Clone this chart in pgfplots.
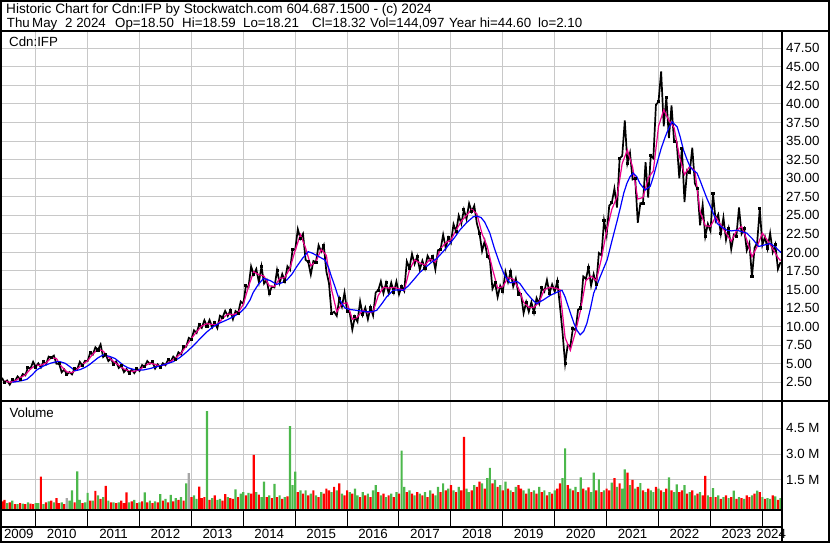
\documentclass[border=0pt]{standalone}
\usepackage{fontspec}
\setmainfont{Liberation Sans}
\usepackage{pgfplots}
\pgfplotsset{compat=1.18}
\definecolor{volgreen}{RGB}{76,184,76}
\definecolor{gridgray}{RGB}{200,200,200}
\newcommand\lab{\fontsize{13.3}{15}\selectfont}
\pgfplotsset{
  swaxis/.style={
    scale only axis, width=779.5pt,
    xmin=2009.3507, xmax=2024.369,
    axis line style={draw=none},
    major tick length=0pt,
    xtick={2010,...,2024}, xticklabels={},
    tick label style={font=\lab},
    clip=true,
  }
}
\begin{document}
\lab
\begin{tikzpicture}[x=1pt,y=1pt]
\useasboundingbox (0,0) rectangle (830,543);

% price panel
\begin{axis}[swaxis,
  at={(2pt,142.5pt)}, anchor=south west, height=368.5pt,
  ymin=0.05, ymax=49.7,
  xmajorgrids, ymajorgrids, grid style={gridgray, line width=1pt},
  ytick={2.5,5,...,47.5},
  yticklabel pos=right,
  yticklabel style={anchor=west, inner sep=0pt, xshift=4.5pt,
    /pgf/number format/fixed, /pgf/number format/fixed zerofill,
    /pgf/number format/precision=2, /pgf/number format/assume math mode=true},
]
\addplot[black, line width=1.7pt, mark=square*, mark size=0.7pt,
  mark options={fill=red, draw=none}, mark repeat=3] table {
x y
2009.35 3.10
2009.40 2.47
2009.45 2.75
2009.50 2.19
2009.55 2.87
2009.60 2.65
2009.65 3.29
2009.70 2.93
2009.75 3.62
2009.80 3.43
2009.85 4.51
2009.90 4.36
2009.95 5.26
2010.00 4.56
2010.05 5.06
2010.10 4.49
2010.15 5.32
2010.20 4.95
2010.25 5.96
2010.30 5.81
2010.35 6.10
2010.40 5.00
2010.45 5.03
2010.50 3.86
2010.55 4.23
2010.60 3.56
2010.65 3.88
2010.70 3.57
2010.75 4.35
2010.80 4.27
2010.85 5.26
2010.90 4.73
2010.95 5.40
2011.00 5.35
2011.05 6.50
2011.10 6.23
2011.15 7.22
2011.20 6.85
2011.25 7.60
2011.30 5.90
2011.35 6.23
2011.40 5.36
2011.45 5.72
2011.50 4.91
2011.55 5.30
2011.60 4.44
2011.65 4.75
2011.70 3.87
2011.75 4.29
2011.80 3.75
2011.85 4.20
2011.90 3.74
2011.95 4.34
2012.00 4.03
2012.05 4.83
2012.10 4.59
2012.15 5.37
2012.20 5.00
2012.25 5.25
2012.30 4.35
2012.35 4.92
2012.40 4.49
2012.45 5.07
2012.50 4.79
2012.55 5.54
2012.60 5.29
2012.65 5.96
2012.70 5.63
2012.75 6.55
2012.80 6.25
2012.85 7.28
2012.90 7.30
2012.95 8.49
2013.00 8.27
2013.05 9.51
2013.10 9.15
2013.15 10.30
2013.20 9.84
2013.25 10.86
2013.30 10.08
2013.35 10.90
2013.40 9.88
2013.45 10.55
2013.50 9.80
2013.55 11.47
2013.60 11.24
2013.65 12.13
2013.70 11.43
2013.75 12.20
2013.80 11.00
2013.85 12.10
2013.90 11.80
2013.95 13.39
2014.00 13.08
2014.05 15.50
2014.10 15.30
2014.15 18.13
2014.20 17.04
2014.25 17.76
2014.30 15.98
2014.35 18.10
2014.40 15.80
2014.45 16.30
2014.50 14.45
2014.55 15.40
2014.60 15.28
2014.65 17.62
2014.70 15.88
2014.75 17.09
2014.80 16.14
2014.85 18.13
2014.90 17.63
2014.95 20.42
2015.00 20.37
2015.05 23.13
2015.10 21.86
2015.15 22.51
2015.20 18.99
2015.25 18.73
2015.30 17.01
2015.35 18.85
2015.40 18.70
2015.45 20.97
2015.50 20.12
2015.55 20.97
2015.60 17.43
2015.65 15.88
2015.70 11.75
2015.75 12.00
2015.80 11.45
2015.85 13.80
2015.90 12.70
2015.95 14.60
2016.00 12.06
2016.05 11.90
2016.10 9.60
2016.15 11.32
2016.20 10.65
2016.25 13.40
2016.30 11.58
2016.35 12.55
2016.40 11.00
2016.45 12.60
2016.50 11.50
2016.55 14.60
2016.60 14.90
2016.65 16.10
2016.70 14.50
2016.75 15.90
2016.80 14.50
2016.85 15.93
2016.90 14.61
2016.95 16.08
2017.00 14.35
2017.05 15.43
2017.10 14.80
2017.15 18.80
2017.20 17.90
2017.25 19.80
2017.30 18.44
2017.35 19.46
2017.40 17.68
2017.45 18.88
2017.50 17.85
2017.55 19.55
2017.60 18.90
2017.65 19.47
2017.70 17.70
2017.75 20.30
2017.80 20.40
2017.85 22.39
2017.90 20.60
2017.95 22.00
2018.00 21.30
2018.05 23.80
2018.10 22.78
2018.15 24.97
2018.20 23.87
2018.25 25.75
2018.30 24.50
2018.35 26.60
2018.40 25.50
2018.45 26.30
2018.50 23.90
2018.55 22.60
2018.60 20.18
2018.65 21.52
2018.70 19.50
2018.75 19.00
2018.80 15.10
2018.85 15.92
2018.90 13.98
2018.95 15.51
2019.00 14.74
2019.05 17.38
2019.10 16.02
2019.15 17.40
2019.20 15.40
2019.25 16.50
2019.30 14.40
2019.35 14.40
2019.40 11.82
2019.45 13.30
2019.50 12.00
2019.55 13.29
2019.60 11.91
2019.65 13.86
2019.70 13.08
2019.75 15.22
2019.80 14.73
2019.85 16.28
2019.90 14.50
2019.95 15.70
2020.00 14.70
2020.05 16.13
2020.10 12.80
2020.15 9.26
2020.20 5.00
2020.25 7.55
2020.30 7.30
2020.35 9.80
2020.40 9.50
2020.45 12.30
2020.50 12.51
2020.55 16.76
2020.60 16.42
2020.65 17.97
2020.70 15.52
2020.75 17.07
2020.80 15.63
2020.85 19.92
2020.90 19.60
2020.95 24.30
2021.00 22.36
2021.05 26.30
2021.10 26.70
2021.15 28.60
2021.20 26.04
2021.25 32.66
2021.30 33.00
2021.35 37.80
2021.40 32.00
2021.45 33.40
2021.50 29.83
2021.55 30.00
2021.60 24.00
2021.65 26.64
2021.70 26.60
2021.75 32.16
2021.80 27.40
2021.85 33.05
2021.90 32.70
2021.95 39.90
2022.00 40.30
2022.05 44.40
2022.10 37.00
2022.15 40.90
2022.20 35.40
2022.25 39.80
2022.30 34.90
2022.35 34.85
2022.40 30.00
2022.45 34.00
2022.50 26.80
2022.55 31.07
2022.60 30.73
2022.65 34.10
2022.70 29.30
2022.75 28.60
2022.80 23.65
2022.85 26.40
2022.90 22.15
2022.95 23.85
2023.00 22.90
2023.05 27.90
2023.10 24.30
2023.15 25.10
2023.20 22.50
2023.25 24.70
2023.30 21.70
2023.35 23.20
2023.40 20.42
2023.45 22.40
2023.50 22.20
2023.55 26.06
2023.60 22.50
2023.65 23.20
2023.70 20.27
2023.75 21.25
2023.80 16.70
2023.85 20.60
2023.90 21.30
2023.95 25.90
2024.00 21.00
2024.05 22.10
2024.10 20.50
2024.15 22.60
2024.20 20.04
2024.25 21.06
2024.30 17.75
2024.35 18.70
};
% short moving average
\addplot[magenta, line width=1.2pt] table {
x y
2009.40 2.7
2009.50 2.5
2009.60 2.7
2009.70 3.1
2009.80 3.5
2009.90 4.3
2010.00 4.8
2010.10 4.8
2010.20 5.1
2010.30 5.8
2010.40 5.7
2010.50 4.6
2010.60 3.9
2010.70 3.8
2010.80 4.3
2010.90 4.9
2011.00 5.4
2011.10 6.3
2011.20 7.0
2011.30 6.7
2011.40 5.9
2011.50 5.3
2011.60 4.8
2011.70 4.3
2011.80 4.0
2011.90 4.0
2012.00 4.2
2012.10 4.7
2012.20 5.1
2012.30 4.9
2012.40 4.7
2012.50 4.9
2012.60 5.3
2012.70 5.8
2012.80 6.4
2012.90 7.4
2013.00 8.4
2013.10 9.3
2013.20 10.1
2013.30 10.4
2013.40 10.3
2013.50 10.3
2013.60 11.1
2013.70 11.7
2013.80 11.6
2013.90 11.9
2014.00 13.0
2014.10 15.4
2014.20 17.4
2014.30 17.0
2014.40 16.8
2014.50 15.5
2014.60 15.4
2014.70 16.5
2014.80 16.6
2014.90 17.9
2015.00 20.3
2015.10 22.4
2015.20 20.6
2015.30 18.2
2015.40 18.8
2015.50 20.4
2015.60 19.6
2015.70 15.0
2015.80 12.0
2015.90 13.1
2016.00 13.2
2016.10 11.0
2016.20 11.3
2016.30 12.2
2016.40 11.9
2016.50 12.0
2016.60 14.2
2016.70 15.3
2016.80 15.2
2016.90 15.3
2017.00 15.1
2017.10 14.9
2017.20 17.6
2017.30 19.0
2017.40 18.6
2017.50 18.3
2017.60 19.1
2017.70 18.7
2017.80 20.5
2017.90 21.3
2018.00 21.7
2018.10 23.0
2018.20 24.2
2018.30 25.0
2018.40 25.8
2018.50 25.2
2018.60 22.5
2018.70 20.8
2018.80 17.8
2018.90 15.2
2019.00 15.4
2019.10 16.6
2019.20 16.4
2019.30 15.2
2019.40 13.3
2019.50 12.6
2019.60 12.6
2019.70 13.3
2019.80 15.0
2019.90 15.3
2020.00 15.2
2020.10 15.0
2020.20 8.5
2020.30 6.8
2020.40 9.3
2020.50 12.3
2020.60 16.2
2020.70 16.8
2020.80 16.2
2020.90 19.2
2021.00 22.9
2021.10 25.8
2021.20 27.5
2021.30 32.0
2021.40 33.8
2021.50 31.5
2021.60 27.2
2021.70 27.4
2021.80 30.0
2021.90 31.0
2022.00 37.0
2022.10 39.2
2022.20 37.8
2022.30 36.8
2022.40 33.0
2022.50 30.5
2022.60 31.6
2022.70 31.0
2022.80 25.5
2022.90 23.6
2023.00 23.5
2023.10 24.8
2023.20 23.7
2023.30 22.6
2023.40 21.5
2023.50 22.9
2023.60 23.5
2023.70 21.7
2023.80 19.4
2023.90 20.8
2024.00 22.6
2024.10 21.6
2024.20 20.5
2024.30 19.3
2024.35 18.9
};
% long moving average
\addplot[blue, line width=1.2pt] table {
x y
2009.55 2.50
2009.63 2.60
2009.73 2.72
2009.83 2.90
2009.93 3.50
2010.02 4.16
2010.15 4.70
2010.28 5.06
2010.38 5.25
2010.47 5.28
2010.57 5.05
2010.66 4.60
2010.76 4.06
2010.85 4.20
2010.95 4.50
2011.03 4.85
2011.11 5.30
2011.20 5.80
2011.30 6.20
2011.42 6.00
2011.53 5.70
2011.61 5.25
2011.69 4.80
2011.78 4.45
2011.88 4.25
2011.98 4.18
2012.07 4.16
2012.20 4.35
2012.33 4.60
2012.49 4.90
2012.65 5.28
2012.78 5.85
2012.91 6.60
2013.04 7.45
2013.17 8.40
2013.30 9.30
2013.42 10.00
2013.55 10.50
2013.68 10.90
2013.81 11.35
2013.94 11.90
2014.04 12.60
2014.13 13.60
2014.19 14.60
2014.29 15.70
2014.39 16.50
2014.52 16.20
2014.64 15.70
2014.74 15.90
2014.84 16.30
2014.94 17.10
2015.03 18.10
2015.14 19.20
2015.25 20.10
2015.33 19.90
2015.41 19.60
2015.49 19.30
2015.57 19.00
2015.64 18.00
2015.70 16.70
2015.77 15.30
2015.83 14.00
2015.90 13.10
2015.96 12.50
2016.07 12.30
2016.18 12.20
2016.28 12.10
2016.38 12.00
2016.48 12.00
2016.57 12.20
2016.67 13.10
2016.76 14.00
2016.89 14.90
2016.98 14.95
2017.08 14.90
2017.18 15.50
2017.28 16.30
2017.40 17.30
2017.53 18.10
2017.63 18.70
2017.73 19.20
2017.86 20.20
2017.98 21.20
2018.08 22.10
2018.17 23.00
2018.30 24.00
2018.43 24.80
2018.50 24.90
2018.58 24.70
2018.65 24.10
2018.75 22.60
2018.84 20.50
2018.94 18.50
2019.04 16.80
2019.14 15.90
2019.27 16.10
2019.33 15.80
2019.46 14.50
2019.56 13.70
2019.65 13.10
2019.78 13.60
2019.91 14.20
2020.03 14.60
2020.14 14.90
2020.20 14.00
2020.27 12.50
2020.37 10.45
2020.43 9.50
2020.49 8.90
2020.56 9.40
2020.62 10.45
2020.69 12.50
2020.75 14.50
2020.88 16.80
2021.01 19.00
2021.10 21.50
2021.20 24.20
2021.27 26.20
2021.33 28.00
2021.39 29.30
2021.45 30.20
2021.51 30.70
2021.58 30.20
2021.64 29.30
2021.74 28.40
2021.84 28.90
2021.90 30.20
2021.97 32.00
2022.05 34.00
2022.13 35.60
2022.20 36.80
2022.26 37.60
2022.36 36.90
2022.42 35.50
2022.48 33.80
2022.55 32.50
2022.61 31.50
2022.68 31.00
2022.74 30.70
2022.80 29.70
2022.87 28.40
2022.93 27.30
2023.00 26.20
2023.07 25.00
2023.13 23.90
2023.22 23.40
2023.32 23.00
2023.41 22.90
2023.51 23.00
2023.60 22.80
2023.70 22.60
2023.80 21.90
2023.93 20.80
2024.04 21.00
2024.15 21.20
2024.24 20.80
2024.31 20.30
2024.36 20.00
};
\end{axis}

% volume panel (millions)
\begin{axis}[swaxis,
  at={(2pt,33.5pt)}, anchor=south west, height=107pt,
  ymin=0, ymax=6.21,
  y filter/.expression={y+0.215},
  xmajorgrids, ymajorgrids, grid style={gridgray, line width=1pt},
  ytick={1.715,3.215,4.715}, yticklabels={1.5 M,3.0 M,4.5 M},
  yticklabel pos=right,
  yticklabel style={anchor=west, inner sep=0pt, xshift=4.5pt},
]
\addplot[ybar, bar width=2.2pt, bar shift=0pt, fill=volgreen, draw=none] table {
x y
2009.45 0.15
2009.55 0.3
2009.65 0.1
2009.75 0.12
2009.85 0.2
2010.00 0.15
2010.05 0.15
2010.15 0.1
2010.25 0.25
2010.35 0.2
2010.50 0.2
2010.65 0.3
2010.70 0.9
2010.80 2.0
2010.85 0.35
2010.95 0.2
2011.00 0.75
2011.10 0.3
2011.20 0.6
2011.30 0.5
2011.40 0.3
2011.50 0.2
2011.60 0.2
2011.80 0.2
2011.90 0.35
2012.00 0.2
2012.10 0.78
2012.20 0.3
2012.30 0.25
2012.40 0.68
2012.50 0.4
2012.60 0.63
2012.70 0.45
2012.80 0.5
2012.90 1.3
2013.05 0.6
2013.10 0.4
2013.30 5.5
2013.40 0.45
2013.50 0.35
2013.55 0.4
2013.70 0.5
2013.85 0.96
2013.95 0.7
2014.00 0.8
2014.10 0.75
2014.25 0.8
2014.35 0.5
2014.40 1.4
2014.50 0.6
2014.60 1.27
2014.70 0.6
2014.80 0.5
2014.90 4.63
2014.95 1.2
2015.00 1.98
2015.10 0.9
2015.20 0.9
2015.30 0.7
2015.40 0.6
2015.50 0.8
2015.70 0.8
2015.80 0.9
2015.90 0.7
2016.05 0.8
2016.15 1.0
2016.20 0.6
2016.30 0.8
2016.40 0.7
2016.50 0.9
2016.55 1.2
2016.65 0.6
2016.75 0.5
2016.85 0.7
2016.95 0.8
2017.05 3.2
2017.10 1.1
2017.20 0.9
2017.30 0.6
2017.40 0.7
2017.50 0.8
2017.60 0.9
2017.70 0.6
2017.75 1.1
2017.85 1.3
2017.95 1.0
2018.05 0.9
2018.15 1.1
2018.30 1.0
2018.35 0.8
2018.45 1.2
2018.60 1.3
2018.70 1.6
2018.75 2.2
2018.85 1.5
2018.95 1.2
2019.05 1.4
2019.15 0.9
2019.25 1.1
2019.40 0.9
2019.50 1.0
2019.60 0.9
2019.70 1.1
2019.80 0.9
2019.90 0.8
2020.00 0.9
2020.15 1.6
2020.20 3.33
2020.30 1.0
2020.40 1.1
2020.50 1.65
2020.60 0.9
2020.70 0.8
2020.75 1.92
2020.85 1.54
2020.95 0.9
2021.10 1.34
2021.20 1.1
2021.30 1.0
2021.35 2.12
2021.45 1.2
2021.55 1.0
2021.65 1.31
2021.75 0.8
2021.85 0.9
2021.90 0.8
2022.00 1.0
2022.10 0.8
2022.20 1.65
2022.30 0.8
2022.35 1.25
2022.50 1.2
2022.60 0.8
2022.70 0.6
2022.80 0.8
2022.95 0.6
2023.05 1.02
2023.15 0.6
2023.25 0.5
2023.35 0.45
2023.45 0.88
2023.55 0.5
2023.65 0.4
2023.80 0.6
2023.90 0.88
2024.00 0.5
2024.10 0.45
2024.15 0.4
2024.25 0.55
2024.35 0.45
};
\addplot[ybar, bar width=2.2pt, bar shift=0pt, fill=red, draw=none] table {
x y
2009.35 0.25
2009.40 0.35
2009.50 0.2
2009.60 0.1
2009.70 0.15
2009.80 0.1
2009.90 0.12
2009.95 0.1
2010.10 1.7
2010.20 0.2
2010.30 0.3
2010.40 0.45
2010.45 0.15
2010.55 0.1
2010.75 0.2
2010.90 0.15
2011.05 0.3
2011.15 0.86
2011.25 0.4
2011.35 1.15
2011.45 0.2
2011.55 0.15
2011.65 0.3
2011.70 0.15
2011.75 0.78
2011.85 0.25
2011.95 0.15
2012.05 0.25
2012.15 0.2
2012.25 0.15
2012.35 0.2
2012.45 0.3
2012.55 0.2
2012.65 0.25
2012.75 0.35
2012.85 0.3
2013.00 0.5
2013.15 1.11
2013.20 0.45
2013.25 0.5
2013.35 0.35
2013.45 0.6
2013.60 0.3
2013.65 0.68
2013.75 0.45
2013.80 0.4
2013.90 0.5
2014.05 0.6
2014.15 0.7
2014.20 2.95
2014.30 0.65
2014.45 0.5
2014.55 0.45
2014.65 0.5
2014.75 0.4
2014.85 0.55
2015.05 0.8
2015.15 0.7
2015.25 0.6
2015.35 0.9
2015.45 0.5
2015.55 0.7
2015.60 1.0
2015.65 0.9
2015.75 1.1
2015.85 1.3
2015.95 0.6
2016.00 0.9
2016.10 0.7
2016.25 0.5
2016.35 0.6
2016.45 0.5
2016.60 0.8
2016.70 0.7
2016.80 0.6
2016.90 0.5
2017.00 0.7
2017.15 0.8
2017.25 0.7
2017.35 0.8
2017.45 0.6
2017.55 0.5
2017.65 0.7
2017.80 0.8
2017.90 0.9
2018.00 1.2
2018.10 0.8
2018.20 0.9
2018.25 4.0
2018.40 0.9
2018.50 1.1
2018.55 1.4
2018.65 1.0
2018.80 1.3
2018.90 1.1
2019.00 0.9
2019.10 1.0
2019.20 0.8
2019.30 1.2
2019.35 1.0
2019.45 0.7
2019.55 0.8
2019.65 0.7
2019.75 0.8
2019.85 0.6
2019.95 0.7
2020.05 1.0
2020.10 1.3
2020.25 1.2
2020.35 0.9
2020.45 0.8
2020.55 1.0
2020.65 1.07
2020.80 0.9
2020.90 0.8
2021.00 1.0
2021.05 0.9
2021.15 1.6
2021.25 1.3
2021.40 1.92
2021.50 1.5
2021.60 1.1
2021.70 0.9
2021.80 1.0
2021.95 1.1
2022.05 0.9
2022.15 1.0
2022.25 0.9
2022.40 0.8
2022.45 0.9
2022.55 0.7
2022.65 0.9
2022.75 0.7
2022.85 0.6
2022.90 1.73
2023.00 0.5
2023.10 0.5
2023.20 0.4
2023.30 0.6
2023.40 0.5
2023.50 0.4
2023.60 0.45
2023.70 0.6
2023.75 0.5
2023.85 0.7
2023.95 0.8
2024.05 0.4
2024.20 0.6
2024.30 0.35
};
\addplot[ybar, bar width=2.2pt, bar shift=0pt, fill=gray!70, draw=none] table {
x y
2010.60 0.45
2012.95 1.89
};
\end{axis}

% year strip
\begin{axis}[swaxis,
  at={(2pt,16.5pt)}, anchor=south west, height=17pt,
  ymin=0, ymax=1, ytick=\empty,
  xmajorgrids, grid style={black, line width=1pt},
  extra x ticks={2009.675,2010.5,2011.5,2012.5,2013.5,2014.5,2015.5,2016.5,2017.5,2018.5,2019.5,2020.5,2021.5,2022.5,2023.5,2024.17},
  extra x tick labels={2009,2010,2011,2012,2013,2014,2015,2016,2017,2018,2019,2020,2021,2022,2023,2024},
  extra x tick style={grid=none},
  xticklabel style={anchor=north, inner sep=0pt, yshift=-3pt},
]
\addplot[draw=none] coordinates {(2010,0.5)};
\end{axis}

% frame and separators
\draw[line width=2pt] (1,1) rectangle (829,542);
\draw[line width=2pt] (0,511.5) -- (830,511.5);
\draw[line width=2.3pt] (781.7,511.5) -- (781.7,0);
\draw[line width=2.3pt] (0,142) -- (830,142);
\draw[line width=2pt] (0,33) -- (781.7,33);
\draw[line width=2pt] (0,16) -- (781.7,16);

% texts
\node[anchor=base west, inner sep=0pt, font=\fontsize{13.6}{15}\selectfont] at (6,529) {Historic Chart for Cdn:IFP by Stockwatch.com 604.687.1500 - (c) 2024};
\node[anchor=base west, inner sep=0pt] at (6.7,515.5) {Thu};
\node[anchor=base west, inner sep=0pt] at (32,515.5) {May};
\node[anchor=base west, inner sep=0pt] at (65,515.5) {2 2024};
\node[anchor=base west, inner sep=0pt] at (115,515.5) {Op=18.50};
\node[anchor=base west, inner sep=0pt] at (182,515.5) {Hi=18.59};
\node[anchor=base west, inner sep=0pt] at (243,515.5) {Lo=18.21};
\node[anchor=base west, inner sep=0pt] at (312,515.5) {Cl=18.32};
\node[anchor=base west, inner sep=0pt] at (370,515.5) {Vol=144,097};
\node[anchor=base west, inner sep=0pt] at (449,515.5) {Year hi=44.60};
\node[anchor=base west, inner sep=0pt] at (538,515.5) {lo=2.10};
\node[anchor=base west, inner sep=0pt] at (9,496.5) {Cdn:IFP};
\node[anchor=base west, inner sep=0pt] at (9.3,125) {Volume};
\end{tikzpicture}
\end{document}
